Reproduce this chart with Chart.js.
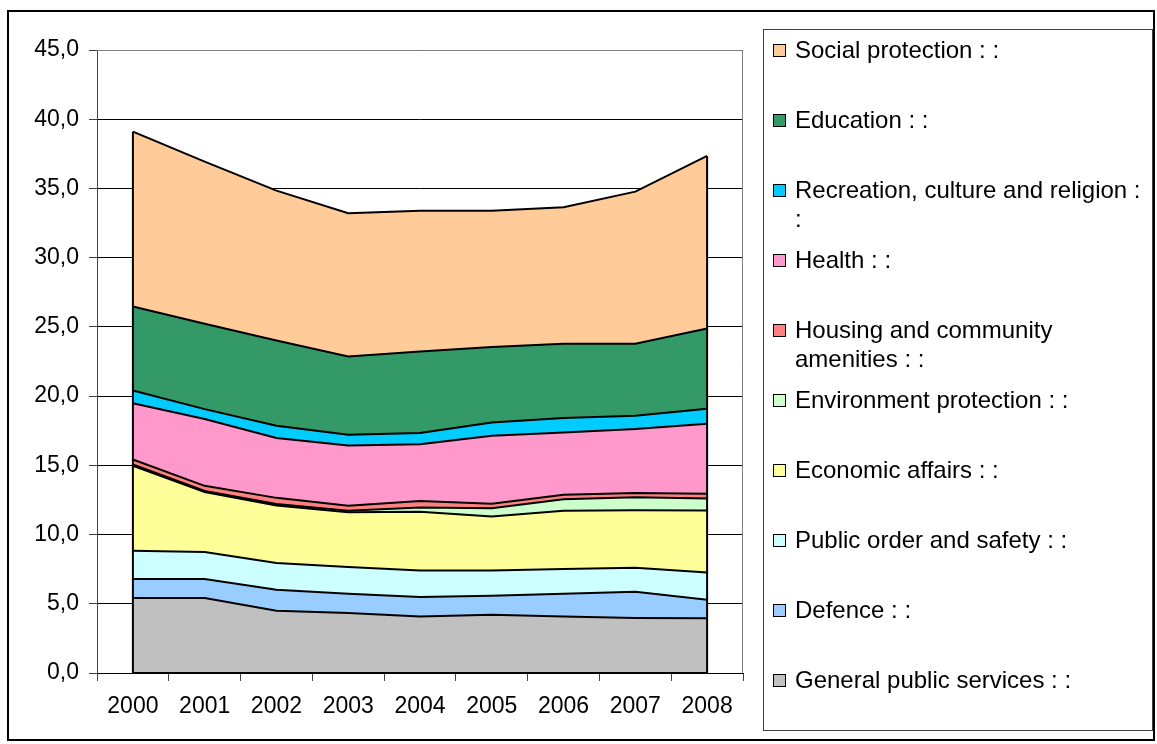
<!DOCTYPE html>
<html>
<head>
<meta charset="utf-8">
<script src="https://cdn.jsdelivr.net/npm/chart.js@4/dist/chart.umd.min.js"></script>
<style>
  html, body { margin: 0; padding: 0; background: #fff; }
  #wrap { width: 1157px; height: 744px; position: relative; }
  canvas { display: block; }
</style>
</head>
<body>
<div id="wrap"><canvas id="c" width="1157" height="744"></canvas></div>
<script>
// Categories (years)
const years = ['2000', '2001', '2002', '2003', '2004', '2005', '2006', '2007', '2008'];

// Expenditure by function, stacked from the bottom up
const generalPublicServices = [5.42, 5.42, 4.50, 4.33, 4.09, 4.21, 4.09, 3.97, 3.95];
const defence               = [1.37, 1.37, 1.51, 1.39, 1.40, 1.37, 1.63, 1.90, 1.34];
const publicOrderSafety     = [2.04, 1.95, 1.93, 1.93, 1.92, 1.83, 1.79, 1.73, 1.97];
const economicAffairs       = [6.14, 4.34, 4.16, 3.97, 4.24, 3.90, 4.21, 4.15, 4.48];
const environmentProtection = [0.10, 0.07, 0.10, 0.10, 0.30, 0.59, 0.83, 0.95, 0.86];
const housingCommunity      = [0.35, 0.37, 0.45, 0.36, 0.48, 0.32, 0.33, 0.30, 0.35];
const health                = [4.07, 4.82, 4.32, 4.35, 4.10, 4.91, 4.49, 4.62, 5.05];
const recreationCulture     = [0.91, 0.72, 0.89, 0.78, 0.80, 0.96, 1.04, 0.96, 1.08];
const education             = [6.07, 6.16, 6.15, 5.65, 5.89, 5.45, 5.37, 5.20, 5.80];
const socialProtection      = [12.63, 11.72, 10.83, 10.35, 10.16, 9.84, 9.87, 10.99, 12.47];

// Y axis range
const yMin = 0, yMax = 45, yStep = 5;

const FONT = "'Liberation Sans', Arial, sans-serif";

function area(label, data, color, fill) {
  return {
    label, data,
    backgroundColor: color,
    borderColor: '#000',
    borderWidth: 2,
    fill,
    pointRadius: 0,
    pointHoverRadius: 0,
    tension: 0
  };
}

const datasets = [
  area('General public services : :', generalPublicServices, '#C0C0C0', 'origin'),
  area('Defence : :', defence, '#99CCFF', '-1'),
  area('Public order and safety : :', publicOrderSafety, '#CCFFFF', '-1'),
  area('Economic affairs : :', economicAffairs, '#FFFF99', '-1'),
  area('Environment protection : :', environmentProtection, '#CCFFCC', '-1'),
  area('Housing and community amenities : :', housingCommunity, '#FF8080', '-1'),
  area('Health : :', health, '#FF99CC', '-1'),
  area('Recreation, culture and religion : :', recreationCulture, '#00CCFF', '-1'),
  area('Education : :', education, '#339966', '-1'),
  area('Social protection : :', socialProtection, '#FFCC99', '-1')
];

function wrapText(ctx, text, maxWidth) {
  const words = text.split(' ');
  const lines = [];
  let cur = '';
  for (const w of words) {
    const t = cur ? cur + ' ' + w : w;
    if (cur && ctx.measureText(t).width > maxWidth) {
      lines.push(cur);
      cur = w;
    } else {
      cur = t;
    }
  }
  if (cur) lines.push(cur);
  return lines;
}

// Frame, plot border, area end caps and the boxed legend
const decorations = {
  id: 'decorations',
  beforeDraw(chart) {
    const ctx = chart.ctx;
    ctx.save();
    ctx.fillStyle = '#fff';
    ctx.fillRect(0, 0, chart.width, chart.height);
    ctx.restore();
  },
  beforeDatasetsDraw(chart) {
    const ctx = chart.ctx, a = chart.chartArea;
    ctx.save();
    ctx.strokeStyle = '#808080';
    ctx.lineWidth = 1;
    ctx.beginPath();
    ctx.moveTo(a.left, a.top + 0.5);
    ctx.lineTo(a.right - 0.5, a.top + 0.5);
    ctx.lineTo(a.right - 0.5, a.bottom);
    ctx.stroke();
    ctx.restore();
  },
  afterDatasetsDraw(chart) {
    const ctx = chart.ctx;
    const yScale = chart.scales.y;
    const top = chart.getDatasetMeta(chart.data.datasets.length - 1).data;
    const base = chart.getDatasetMeta(0).data;
    const y0 = yScale.getPixelForValue(0);
    ctx.save();
    ctx.strokeStyle = '#000';
    ctx.lineWidth = 2;
    ctx.lineJoin = 'round';
    ctx.beginPath();
    const f = top[0], l = top[top.length - 1];
    ctx.moveTo(f.x, f.y);
    ctx.lineTo(f.x, y0);
    ctx.lineTo(base[base.length - 1].x, y0);
    ctx.lineTo(l.x, l.y);
    ctx.stroke();
    ctx.restore();
  },
  afterDraw(chart) {
    const ctx = chart.ctx;
    ctx.save();
    // outer frame
    ctx.strokeStyle = '#000';
    ctx.lineWidth = 2;
    ctx.strokeRect(8, 11, 1146, 729);

    // legend box
    ctx.lineWidth = 1;
    ctx.strokeStyle = '#404040';
    ctx.strokeRect(763.5, 29.5, 389, 701);

    const ds = chart.data.datasets.slice().reverse();
    const firstY = 49.5, step = 70.1;
    ctx.font = '24px ' + FONT;
    ctx.textBaseline = 'middle';
    ctx.textAlign = 'left';
    ds.forEach((d, i) => {
      const yc = Math.round(firstY + i * step);
      ctx.fillStyle = d.backgroundColor;
      ctx.fillRect(773, yc - 6, 12, 12);
      ctx.strokeStyle = '#000';
      ctx.lineWidth = 1;
      ctx.strokeRect(773.5, yc - 5.5, 12, 12);
      ctx.fillStyle = '#000';
      const lines = wrapText(ctx, d.label, 355);
      lines.forEach((ln, j) => ctx.fillText(ln, 795, yc + 1 + j * 29));
    });
    ctx.restore();
  }
};

Chart.defaults.font.family = FONT;
Chart.defaults.color = '#000';

new Chart(document.getElementById('c'), {
  type: 'line',
  data: { labels: years, datasets },
  options: {
    responsive: false,
    devicePixelRatio: 1,
    animation: false,
    events: [],
    layout: { padding: { left: 0, top: 50, right: 414, bottom: 0 } },
    plugins: {
      legend: { display: false },
      tooltip: { enabled: false },
      title: { display: false },
      filler: { propagate: false }
    },
    scales: {
      x: {
        offset: true,
        grid: {
          offset: true,
          drawOnChartArea: false,
          drawTicks: true,
          tickLength: 8,
          tickColor: '#404040',
          color: '#404040'
        },
        border: { display: true, color: '#000', width: 1 },
        ticks: { font: { size: 23 }, color: '#000', padding: 12, maxRotation: 0, autoSkip: false },
        afterFit(scale) { scale.height = 71; }
      },
      y: {
        stacked: true,
        min: yMin,
        max: yMax,
        grid: {
          color: '#000',
          lineWidth: 1,
          tickLength: 8,
          tickColor: '#404040'
        },
        border: { display: true, color: '#404040', width: 1 },
        ticks: {
          stepSize: yStep,
          font: { size: 23 },
          color: '#000',
          padding: 10,
          callback: v => v.toFixed(1).replace('.', ',')
        },
        afterFit(scale) { scale.width = 97; }
      }
    }
  },
  plugins: [decorations]
});
</script>
</body>
</html>
